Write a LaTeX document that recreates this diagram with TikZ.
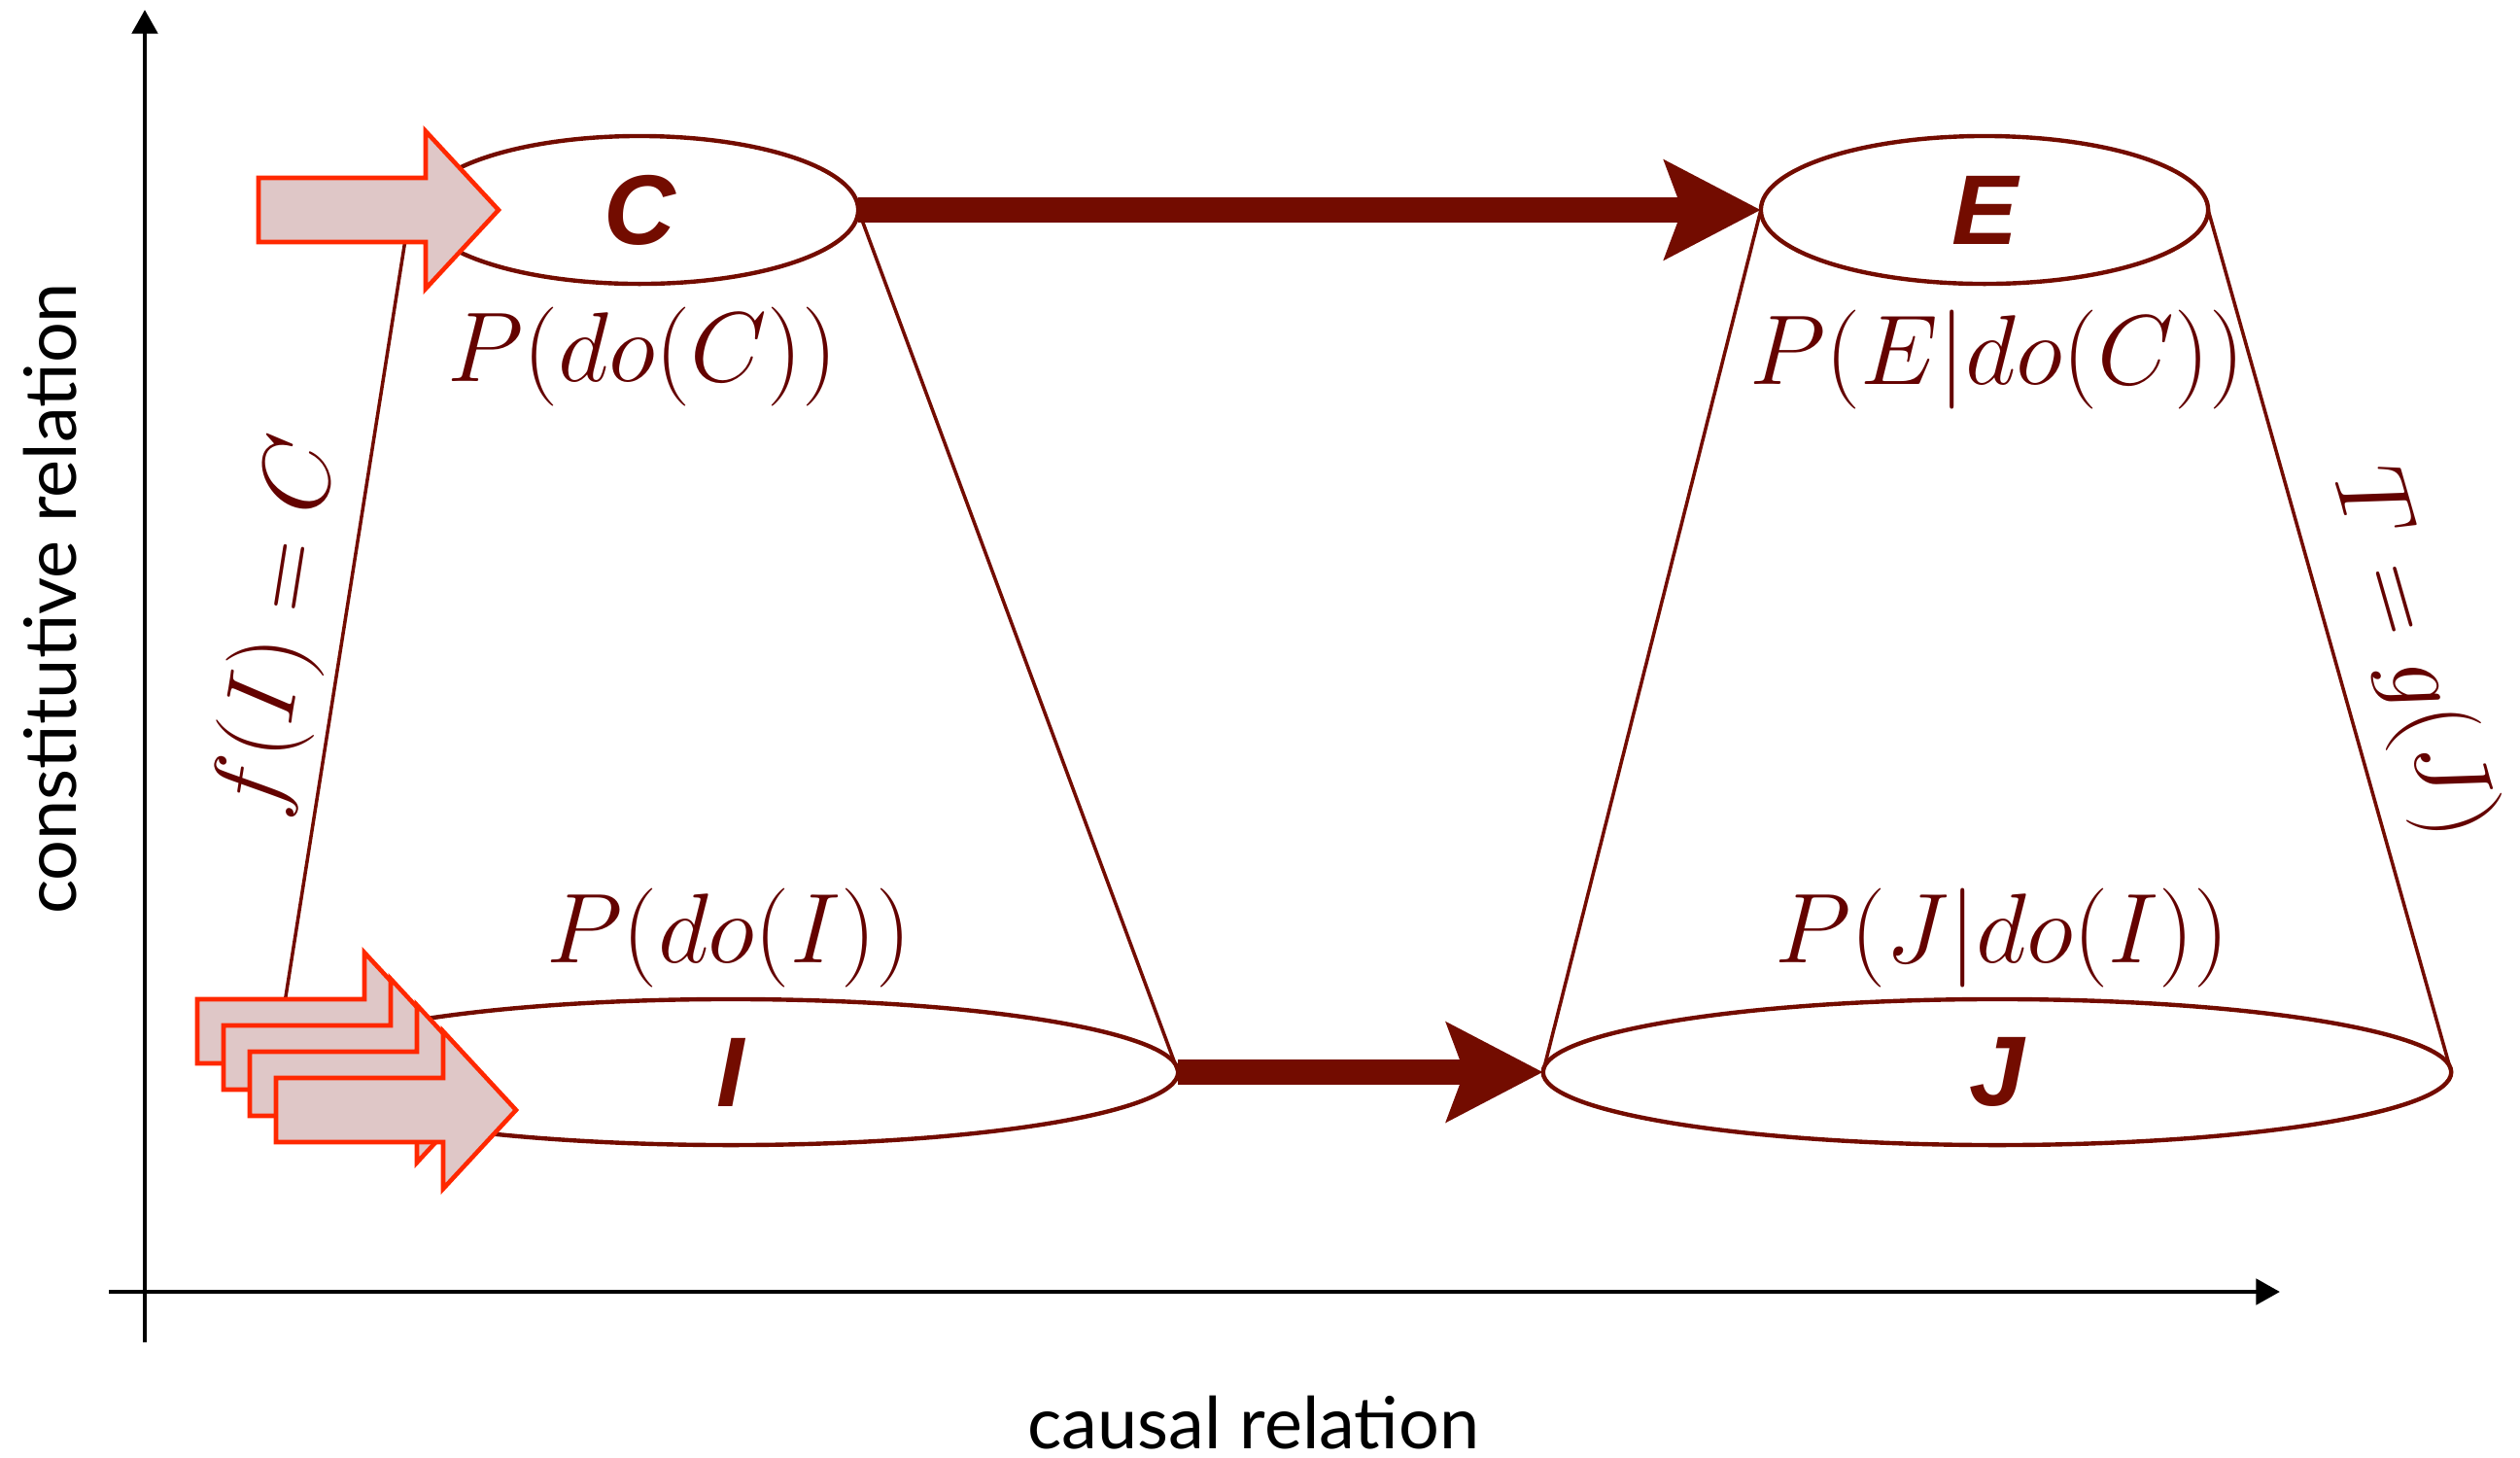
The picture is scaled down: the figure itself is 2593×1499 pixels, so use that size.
\RequirePackage{fix-cm}
\documentclass[tikz,border=0pt]{standalone}
\usepackage{fontspec}
\newfontfamily\lblfont{Liberation Sans}
\newfontfamily\axfont{Lato}
\usetikzlibrary{arrows.meta,shapes.geometric}
\definecolor{dred}{RGB}{115,12,0}
\definecolor{mtext}{RGB}{100,2,0}
\definecolor{redline}{RGB}{255,40,0}
\definecolor{pinkfill}{RGB}{223,199,199}
\tikzset{
  redarr/.style={draw=redline, fill=pinkfill, line width=1.3pt, line join=miter},
  blockarrow/.pic={\path[redarr] (0,-33) -- (172,-33) -- (172,-81) -- (247,0) -- (172,81) -- (172,33) -- (0,33) -- cycle;},
  ell/.style={ellipse, draw=dred, line width=1.25pt, inner sep=0pt, outer sep=0pt, text=dred, font=\lblfont\bfseries\itshape\fontsize{29}{32}\selectfont},
  cone/.style={draw=dred, line width=1pt},
  bigarrow/.style={draw=dred, line width=7.4pt, -{Stealth[length=28pt,width=28.5pt,inset=5pt]}},
  mlabel/.style={text=mtext, font=\fontsize{29}{34}\selectfont, inner sep=0pt},
  axisline/.style={line width=1.4pt, -{Triangle[length=7pt,width=7.4pt]}},
  axlabel/.style={font=\axfont\fontsize{21}{25}\selectfont, inner sep=0pt},
}
\begin{document}
\begin{tikzpicture}[x=0.01cm,y=-0.01cm]
\useasboundingbox (0,0) rectangle (2593,1499);
% axes
\coordinate (yb) at (149,1381);
\coordinate (yt) at (149,10);
\coordinate (xl) at (112,1329);
\coordinate (xr) at (2346,1329);
\draw[axisline] (yb) -- (yt);
\draw[axisline] (xl) -- (xr);
\node[axlabel] (xlab) at (1290,1464) {causal relation};
\node[axlabel, rotate=90] (ylab) at (52,616) {constitutive relation};
% ellipses
\node[ell, minimum width=4.5cm, minimum height=1.52cm] (C) at (658,216) {C};
\node[ell, minimum width=4.6cm, minimum height=1.52cm] (E) at (2042,216) {E};
\node[ell, minimum width=9.2cm, minimum height=1.5cm] (I) at (752,1103) {I};
\node[ell, minimum width=9.34cm, minimum height=1.5cm] (J) at (2055,1103) {J};
% cone lines
\coordinate (cl) at ([xshift=-0.11cm]C.west);
\coordinate (il) at ([xshift=-0.10cm]I.west);
\draw[cone] (cl) -- (il);
\draw[cone] (C.east) -- (I.east);
\draw[cone] (E.west) -- (J.west);
\draw[cone] (E.east) -- (J.east);
% thick arrows
\draw[bigarrow] (C.east) -- (E.west);
\draw[bigarrow] (I.east) -- (J.west);
% labels
\node[mlabel, anchor=base] (pdc) at (661,392) {$P(do(C))$};
\node[mlabel, anchor=base] (pdi) at (750,990) {$P(do(I))$};
\node[mlabel, anchor=base] (pec) at (2055,395) {$P(E|do(C))$};
\node[mlabel, anchor=base] (pji) at (2060,990) {$P(J|do(I))$};
\node[mlabel, rotate=81] (fic) at (290,645) {$f(I)=C$};
\node[mlabel, rotate=-74] (tgj) at (2480,672) {$T=g(J)$};
% red block arrows
\pic at (266,216) {blockarrow};
\pic at (203,1061) {blockarrow};
\pic at (230,1088) {blockarrow};
\pic at (257,1115) {blockarrow};
\pic at (284,1142) {blockarrow};
\end{tikzpicture}
\end{document}
